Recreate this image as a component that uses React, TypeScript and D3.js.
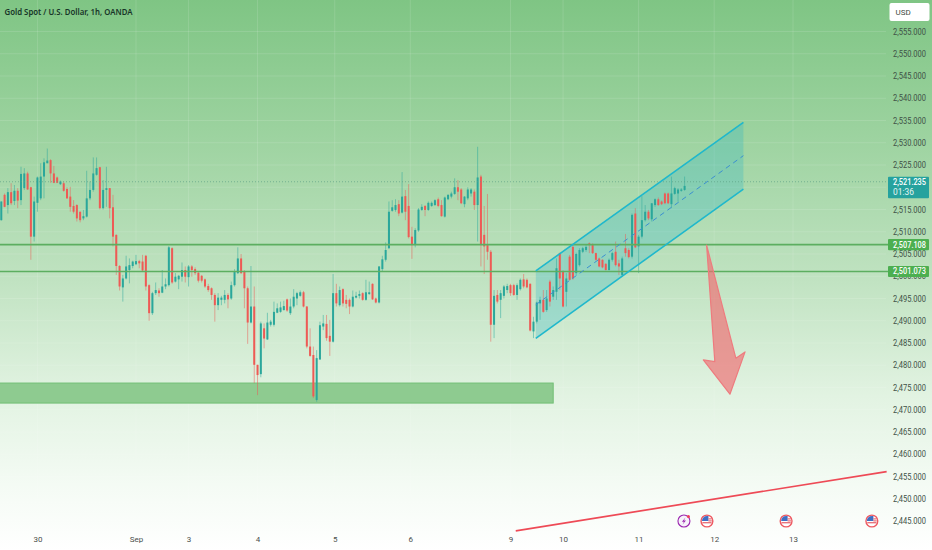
import * as d3 from "d3";
import { useEffect, useRef } from "react";

// [open, close, high, low], hourly bars
const candles: number[][] = [
  [2512.6,2516.8,2516.8,2512.5],[2518.3,2515.6,2518.6,2515.5],[2516.0,2518.9,2519.8,2514.1],[2518.9,2516.4,2520.9,2516.0],
  [2516.9,2519.2,2520.5,2516.0],[2519.2,2517.0,2519.8,2515.3],[2517.1,2523.0,2524.6,2516.0],[2519.8,2523.1,2524.3,2519.4],
  [2523.1,2519.5,2523.5,2519.4],[2520.0,2508.9,2520.1,2503.7],[2508.9,2516.8,2517.9,2507.8],[2516.5,2522.2,2522.4,2514.5],
  [2517.5,2522.4,2525.4,2517.1],[2522.4,2525.6,2526.5,2517.5],[2525.4,2526.0,2528.7,2525.4],[2526.1,2523.1,2526.3,2521.0],
  [2523.1,2521.0,2524.8,2520.9],[2522.2,2521.0,2522.4,2520.9],[2520.7,2521.3,2521.5,2520.5],[2520.9,2519.2,2521.3,2519.0],
  [2519.6,2517.5,2520.0,2517.4],[2517.9,2515.6,2520.1,2514.5],[2515.8,2514.5,2517.1,2514.1],[2516.0,2513.0,2516.2,2512.3],
  [2514.5,2512.6,2514.5,2512.1],[2513.0,2513.5,2514.9,2512.6],[2513.4,2517.5,2523.7,2513.2],[2517.5,2519.4,2521.3,2517.1],
  [2519.4,2523.1,2526.7,2519.0],[2522.8,2524.3,2526.7,2522.6],[2524.5,2515.3,2524.6,2515.0],[2515.3,2519.4,2521.6,2515.0],
  [2519.4,2519.8,2524.6,2515.6],[2519.8,2515.3,2519.8,2513.0],[2515.5,2508.9,2518.3,2506.7],[2509.3,2502.3,2509.4,2500.3],
  [2502.3,2497.7,2502.5,2496.8],[2497.5,2499.5,2500.3,2494.3],[2499.5,2502.2,2504.6,2499.3],[2501.4,2502.5,2504.0,2498.4],
  [2502.3,2503.3,2503.5,2501.8],[2502.7,2503.4,2504.8,2502.5],[2503.4,2502.9,2503.7,2501.8],[2503.3,2501.3,2504.8,2501.0],
  [2504.6,2497.7,2504.8,2496.8],[2498.0,2491.7,2498.2,2490.0],[2491.7,2496.2,2496.5,2491.3],[2496.2,2496.9,2498.6,2495.8],
  [2496.8,2496.2,2497.3,2495.4],[2496.3,2497.7,2501.4,2496.2],[2497.7,2498.2,2499.5,2497.1],[2498.0,2506.5,2506.8,2497.7],
  [2506.3,2498.6,2506.5,2498.3],[2498.8,2499.9,2500.7,2498.6],[2499.3,2500.1,2500.3,2497.1],[2499.9,2501.4,2503.1,2498.8],
  [2501.4,2499.9,2502.2,2498.6],[2499.8,2502.2,2502.5,2497.7],[2502.2,2501.4,2502.5,2499.9],[2501.6,2500.7,2502.0,2500.3],
  [2500.8,2499.0,2501.0,2498.6],[2500.1,2499.0,2500.3,2498.6],[2499.3,2497.7,2499.5,2497.4],[2497.8,2496.9,2498.3,2496.5],
  [2497.3,2495.8,2497.5,2494.7],[2495.8,2493.5,2496.2,2489.8],[2493.5,2495.2,2496.2,2492.4],[2494.7,2495.2,2495.6,2493.5],
  [2494.7,2495.8,2496.9,2493.9],[2495.8,2494.8,2496.2,2492.8],[2495.0,2498.0,2498.8,2494.7],[2498.0,2501.0,2501.6,2497.7],
  [2500.7,2504.0,2506.5,2500.5],[2504.0,2500.7,2505.0,2500.5],[2501.0,2497.3,2501.4,2492.8],[2497.3,2489.6,2497.7,2484.8],
  [2489.6,2493.2,2502.3,2489.4],[2493.2,2480.1,2497.7,2476.0],[2480.1,2477.8,2480.1,2473.3],[2478.0,2489.4,2489.8,2477.3],
  [2488.3,2486.0,2489.4,2483.8],[2485.8,2489.6,2491.8,2485.7],[2489.1,2489.8,2490.2,2488.7],[2489.1,2492.0,2494.3,2488.7],
  [2491.8,2492.8,2493.9,2491.7],[2492.0,2493.0,2494.3,2491.8],[2492.4,2493.3,2494.5,2492.3],[2494.8,2492.3,2495.0,2492.0],
  [2491.7,2493.2,2495.0,2491.3],[2493.2,2495.4,2497.1,2492.8],[2495.0,2496.2,2496.5,2493.5],[2495.6,2496.4,2496.8,2495.4],
  [2496.4,2493.2,2496.7,2493.0],[2493.2,2484.2,2493.3,2483.8],[2484.2,2482.1,2488.3,2481.9],[2482.3,2473.0,2484.2,2472.6],
  [2472.2,2481.6,2483.4,2471.8],[2481.3,2489.0,2489.8,2481.2],[2488.7,2489.4,2491.3,2487.9],[2489.3,2486.1,2491.3,2485.5],
  [2486.6,2485.3,2490.2,2482.1],[2485.3,2496.2,2500.5,2485.1],[2496.2,2493.9,2498.3,2493.2],[2493.5,2496.9,2497.7,2493.2],
  [2497.1,2493.9,2497.3,2493.2],[2494.7,2493.8,2495.8,2492.8],[2494.7,2493.2,2495.0,2491.5],[2493.2,2495.4,2496.8,2493.0],
  [2495.2,2495.6,2496.5,2495.0],[2495.6,2496.0,2496.8,2495.0],[2496.2,2494.7,2496.4,2494.5],[2494.7,2496.4,2499.2,2494.5],
  [2496.0,2496.4,2498.8,2495.8],[2498.3,2494.8,2498.4,2494.7],[2495.0,2494.1,2495.2,2493.9],[2494.1,2502.2,2502.3,2493.9],
  [2501.6,2503.8,2504.6,2501.0],[2503.7,2505.9,2507.6,2503.3],[2506.3,2514.5,2516.8,2506.1],[2514.7,2515.5,2517.1,2514.5],
  [2514.9,2516.0,2517.3,2514.5],[2516.2,2514.1,2517.1,2513.5],[2514.3,2517.9,2523.4,2514.1],[2518.0,2514.5,2519.4,2512.6],
  [2515.8,2508.8,2520.7,2508.5],[2508.9,2507.0,2511.1,2503.9],[2507.0,2510.4,2510.8,2506.5],[2510.3,2515.0,2515.3,2510.0],
  [2514.9,2515.6,2516.2,2514.7],[2515.8,2514.9,2516.0,2513.5],[2514.9,2516.5,2516.8,2514.7],[2515.8,2516.5,2516.8,2515.6],
  [2516.0,2517.1,2517.3,2515.8],[2517.3,2515.8,2517.7,2515.5],[2516.0,2513.5,2517.1,2513.4],[2513.4,2517.7,2517.9,2513.2],
  [2517.3,2518.3,2518.4,2517.1],[2517.9,2518.6,2519.0,2517.5],[2518.5,2520.0,2522.0,2518.3],[2520.0,2519.0,2521.6,2517.1],
  [2519.5,2516.4,2519.8,2516.2],[2516.2,2517.9,2518.0,2515.5],[2517.5,2519.5,2520.0,2517.1],[2518.6,2519.5,2519.8,2517.9],
  [2519.0,2516.0,2519.5,2514.9],[2516.0,2522.2,2529.1,2507.8],[2522.4,2507.0,2522.8,2502.2],[2509.3,2506.7,2515.8,2500.5],
  [2507.0,2505.5,2518.5,2503.7],[2505.5,2489.1,2505.9,2485.3],[2489.1,2495.6,2496.9,2486.1],[2495.8,2494.3,2496.9,2493.9],
  [2494.7,2496.2,2496.9,2490.6],[2495.6,2497.7,2498.0,2495.0],[2496.9,2497.8,2498.3,2496.2],[2498.0,2496.2,2498.3,2495.6],
  [2498.0,2495.8,2498.3,2495.6],[2495.8,2498.0,2498.4,2494.7],[2497.1,2499.2,2499.5,2496.8],[2499.3,2497.7,2500.5,2497.3],
  [2499.2,2497.5,2499.5,2497.3],[2498.3,2487.8,2498.4,2487.6],[2487.6,2489.8,2490.9,2486.1],[2489.8,2494.1,2494.3,2489.4],
  [2493.9,2494.7,2495.4,2490.2],[2494.7,2492.0,2496.9,2491.8],[2492.4,2495.0,2496.9,2492.0],[2498.8,2494.3,2499.2,2493.2],
  [2495.4,2496.9,2497.7,2494.7],[2496.5,2501.8,2504.0,2494.7],[2505.2,2499.5,2505.3,2496.9],[2501.0,2493.2,2501.4,2493.0],
  [2496.5,2499.5,2500.7,2493.2],[2504.4,2499.2,2504.8,2499.0],[2506.6,2499.5,2507.0,2499.2],[2500.7,2505.0,2505.3,2500.3],
  [2502.5,2505.9,2506.3,2502.2],[2505.5,2506.3,2506.6,2505.2],[2505.9,2506.6,2507.0,2505.5],[2507.4,2507.0,2507.6,2505.2],
  [2507.0,2505.2,2507.4,2505.0],[2505.2,2503.7,2505.3,2503.5],[2504.0,2502.2,2504.2,2502.0],[2503.7,2502.0,2503.8,2501.8],
  [2502.8,2501.4,2502.9,2501.3],[2501.4,2503.7,2504.0,2501.3],[2503.7,2505.2,2505.5,2503.3],[2505.5,2502.5,2507.8,2502.2],
  [2502.9,2502.2,2503.7,2500.3],[2500.3,2504.0,2504.4,2499.9],[2506.3,2505.2,2509.5,2504.4],[2505.9,2504.3,2506.3,2504.0],
  [2504.4,2513.8,2514.1,2504.0],[2514.1,2506.5,2515.3,2506.3],[2506.7,2508.9,2509.3,2500.7],[2508.9,2512.6,2518.0,2508.5],
  [2512.6,2514.5,2516.0,2512.3],[2514.5,2513.0,2514.9,2512.6],[2512.8,2516.4,2516.4,2512.3],[2516.0,2517.3,2517.5,2515.6],
  [2517.3,2516.0,2517.7,2515.8],[2516.8,2516.2,2517.0,2516.0],[2518.6,2516.4,2518.8,2516.2],[2518.6,2516.4,2518.8,2516.2],
  [2516.2,2518.6,2522.4,2515.3],[2518.5,2519.8,2520.1,2518.3],[2518.6,2519.5,2519.8,2516.8],[2519.2,2519.5,2519.8,2519.0],
  [2519.4,2520.3,2522.4,2519.2],
];

// 2,520.000 sits fully behind the last price tag in the reference
const gridTicks = d3.range(2445, 2556, 5);
const priceTicks = gridTicks.filter((d) => d !== 2520);
const dayTicks = [11, 41, 57, 78, 101.5, 124.5, 155, 171, 194, 217, 241];
const dayLabels = ["30", "Sep", "3", "4", "5", "6", "9", "10", "11", "12", "13"];

const lastPrice = 2521.235;
const levels = [2507.108, 2501.073];
const supportZone = { toBar: 168, top: 2476, bottom: 2471.5 };

// Channel ends as [bar, price]
const channelTop = [[162.7, 2501.2], [225.9, 2534.6]];
const channelMid = [[162.7, 2493.6], [225.9, 2527.1]];
const channelBottom = [[162.7, 2486.06], [225.9, 2519.6]];
const arrowShape = [[214.7, 2507], [223.6, 2481.6], [226.4, 2483], [221.8, 2473.5], [213.7, 2481.2], [217.2, 2480.8]];
const trendLine = [[156.6, 2442.8], [269.5, 2456.1]];
const boltBar = 207.8;
const flagBars = [214.8, 238.9, 265];

const FONT = "Roboto, 'Noto Sans', sans-serif";
const PRICE_W = 33;

export default function App() {
  const svgRef = useRef<SVGSVGElement>(null);

  useEffect(() => {
    if (!svgRef.current) return;
    const svg = d3.select<SVGSVGElement, unknown>(svgRef.current);
    svg.selectAll("*").remove();
    const width = 932;
    const height = 550;

    const x = d3.scaleLinear().domain([0, 208]).range([1.3, 684.6]);
    const y = d3.scaleLinear().domain([2555, 2445]).range([31.5, 521]);

    const defs = svg.append("defs");
    const grad = defs
      .append("linearGradient")
      .attr("id", "bg")
      .attr("x1", 0)
      .attr("y1", 0)
      .attr("x2", 0)
      .attr("y2", 1);
    [
      [0, "#7fc584"],
      [0.25, "#9dd3a0"],
      [0.5, "#bfe2c0"],
      [0.72, "#e2f3e2"],
      [0.88, "#f4fbf4"],
      [1, "#ffffff"],
    ].forEach(([o, c]) => grad.append("stop").attr("offset", o).attr("stop-color", c));
    defs
      .append("filter")
      .attr("id", "soft")
      .attr("x", "-5%")
      .attr("y", "-5%")
      .attr("width", "110%")
      .attr("height", "110%")
      .append("feGaussianBlur")
      .attr("stdDeviation", 0.3);

    svg.append("rect").attr("width", width).attr("height", height).attr("fill", "url(#bg)");

    // Grid
    const grid = svg.append("g").attr("stroke", "#ffffff").attr("stroke-opacity", 0.12);
    grid
      .selectAll("line.h")
      .data(gridTicks)
      .enter()
      .append("line")
      .attr("x1", 0)
      .attr("x2", 886)
      .attr("y1", (d) => y(d))
      .attr("y2", (d) => y(d));
    grid
      .selectAll("line.v")
      .data(dayTicks)
      .enter()
      .append("line")
      .attr("x1", (d) => x(d))
      .attr("x2", (d) => x(d))
      .attr("y1", 0)
      .attr("y2", 528);

    // Support zone
    svg
      .append("rect")
      .attr("x", -2)
      .attr("width", x(supportZone.toBar) + 2)
      .attr("y", y(supportZone.top))
      .attr("height", y(supportZone.bottom) - y(supportZone.top))
      .attr("fill", "#8ecb90")
      .attr("stroke", "#71bf75")
      .attr("stroke-width", 1);

    const line = d3
      .line<number[]>()
      .x((d) => x(d[0]))
      .y((d) => y(d[1]));

    // Channel fill
    svg
      .append("path")
      .attr("d", line([...channelTop, ...[...channelBottom].reverse()]) + "Z")
      .attr("fill", "#1fb3c9")
      .attr("fill-opacity", 0.26);

    // Candles
    const bars = svg
      .append("g")
      .attr("filter", "url(#soft)")
      .selectAll("g")
      .data(candles)
      .enter()
      .append("g")
      .attr("fill", (d) => (d[1] >= d[0] ? "#2aa79b" : "#ee5a55"))
      .attr("stroke", (d) => (d[1] >= d[0] ? "#2aa79b" : "#ee5a55"));
    bars
      .append("line")
      .attr("x1", (_, i) => x(i))
      .attr("x2", (_, i) => x(i))
      .attr("y1", (d) => y(d[2]))
      .attr("y2", (d) => y(d[3]))
      .attr("stroke-width", 1)
      .attr("stroke-opacity", 0.5);
    bars
      .append("rect")
      .attr("x", (_, i) => x(i) - 1)
      .attr("width", 2)
      .attr("y", (d) => y(Math.max(d[0], d[1])))
      .attr("height", (d) => Math.max(0.8, Math.abs(y(d[0]) - y(d[1]))))
      .attr("stroke", "none");

    // Last price dotted line
    svg
      .append("line")
      .attr("x1", 0)
      .attr("x2", 888)
      .attr("y1", y(lastPrice))
      .attr("y2", y(lastPrice))
      .attr("stroke", "#5d9f86")
      .attr("stroke-width", 1)
      .attr("stroke-opacity", 0.7)
      .attr("stroke-dasharray", "1 2");

    // Level lines
    svg
      .selectAll("line.level")
      .data(levels)
      .enter()
      .append("line")
      .attr("class", "level")
      .attr("x1", 0)
      .attr("x2", 888)
      .attr("y1", (d) => y(d))
      .attr("y2", (d) => y(d))
      .attr("stroke", "#5cae60")
      .attr("stroke-width", 1.6);

    // Channel lines
    [channelTop, channelBottom].forEach((c) => {
      svg
        .append("path")
        .attr("d", line(c))
        .attr("fill", "none")
        .attr("stroke", "#1fb8cc")
        .attr("stroke-width", 1.6);
    });
    svg
      .append("path")
      .attr("d", line(channelMid))
      .attr("fill", "none")
      .attr("stroke", "#3b8fd0")
      .attr("stroke-width", 1)
      .attr("stroke-dasharray", "5 4");

    // Arrow
    svg
      .append("path")
      .attr("d", line(arrowShape) + "Z")
      .attr("fill", "#ef6a70")
      .attr("fill-opacity", 0.65)
      .attr("stroke", "#ee7b7e")
      .attr("stroke-width", 1.2)
      .attr("stroke-linejoin", "round");

    // Red trend line
    svg
      .append("path")
      .attr("d", line(trendLine))
      .attr("fill", "none")
      .attr("stroke", "#ee4a56")
      .attr("stroke-width", 1.7);

    // Event markers
    const iconY = y(2445);
    const bolt = svg.append("g").attr("transform", `translate(${x(boltBar)},${iconY})`);
    bolt.append("circle").attr("r", 6).attr("fill", "#f6f3fa").attr("stroke", "#9c27b0").attr("stroke-width", 1.1);
    bolt
      .append("path")
      .attr("d", "M1.5 -3.5 L-2 0.8 L0 0.8 L-1.3 3.5 L2 -0.6 L0 -0.6 Z")
      .attr("fill", "#9c27b0");
    bolt.append("circle").attr("cx", 4.5).attr("cy", -4.5).attr("r", 1.5).attr("fill", "#ef3f5a");

    flagBars.forEach((b) => {
      const g = svg.append("g").attr("transform", `translate(${x(b)},${iconY})`);
      g.append("circle").attr("r", 6.6).attr("fill", "#ee5a62");
      g.append("circle").attr("r", 5.2).attr("fill", "#ffffff");
      g.append("path").attr("d", "M-5 0 A5 5 0 0 1 0 -5 L1.5 -5 L1.5 0 Z").attr("fill", "#3f6fc4");
      g.append("rect").attr("x", 1.5).attr("y", -2.6).attr("width", 3.2).attr("height", 1).attr("fill", "#e2535d");
      g.append("rect").attr("x", -4.6).attr("y", 1.2).attr("width", 9.2).attr("height", 1.1).attr("fill", "#e2535d");
      g.append("rect").attr("x", 1.5).attr("y", -0.6).attr("width", 3.4).attr("height", 1).attr("fill", "#e2535d");
    });

    // Price axis
    const yAxis = d3
      .axisRight(y)
      .tickValues(priceTicks)
      .tickSize(0)
      .tickPadding(0)
      .tickFormat((d) => d3.format(",.3f")(d as number));
    const yG = svg.append("g").attr("transform", "translate(893,0)").call(yAxis);
    yG.select(".domain").remove();
    yG.selectAll(".tick text")
      .attr("fill", "#3f5247")
      .attr("font-size", "8.4px")
      .attr("font-family", FONT)
      .attr("textLength", PRICE_W)
      .attr("lengthAdjust", "spacingAndGlyphs");

    // Time axis
    const xAxis = d3
      .axisBottom(x)
      .tickValues(dayTicks)
      .tickSize(0)
      .tickPadding(0)
      .tickFormat((_, i) => dayLabels[i]);
    const xG = svg.append("g").attr("transform", "translate(0,536)").call(xAxis);
    xG.select(".domain").remove();
    xG.selectAll(".tick text").attr("fill", "#4a4f4c").attr("font-size", "8px").attr("font-family", FONT);

    // Price tags
    const tag = svg.append("g").attr("font-family", FONT).attr("font-size", "8.4px");
    levels.forEach((d) => {
      tag
        .append("rect")
        .attr("x", 888)
        .attr("width", 41)
        .attr("y", y(d) - 5.6)
        .attr("height", 11.2)
        .attr("rx", 1)
        .attr("fill", "#4caf50");
      tag
        .append("text")
        .attr("x", 893)
        .attr("y", y(d) + 3)
        .attr("fill", "#ffffff")
        .attr("font-weight", 500)
        .attr("textLength", PRICE_W)
        .attr("lengthAdjust", "spacingAndGlyphs")
        .text(d3.format(",.3f")(d));
    });
    tag
      .append("rect")
      .attr("x", 888)
      .attr("width", 41)
      .attr("y", y(lastPrice) - 5)
      .attr("height", 21.5)
      .attr("rx", 1)
      .attr("fill", "#25a29e");
    tag
      .append("text")
      .attr("x", 893)
      .attr("y", y(lastPrice) + 3)
      .attr("fill", "#ffffff")
      .attr("font-weight", 500)
      .attr("textLength", PRICE_W)
      .attr("lengthAdjust", "spacingAndGlyphs")
      .text(d3.format(",.3f")(lastPrice));
    tag
      .append("text")
      .attr("x", 893)
      .attr("y", y(lastPrice) + 13)
      .attr("fill", "#e6f6f3")
      .text("01:36");

    // USD button
    svg
      .append("rect")
      .attr("x", 889.5)
      .attr("y", 3)
      .attr("width", 40)
      .attr("height", 18)
      .attr("rx", 2)
      .attr("fill", "#ffffff");
    svg
      .append("text")
      .attr("x", 895.5)
      .attr("y", 15)
      .attr("fill", "#3c4a42")
      .attr("font-family", FONT)
      .attr("font-size", "8px")
      .text("USD");

    // Title
    svg
      .append("text")
      .attr("x", 4.5)
      .attr("y", 14.5)
      .attr("fill", "#173528")
      .attr("font-family", "'Noto Sans', sans-serif")
      .attr("font-size", "9px")
      .attr("font-weight", 600)
      .attr("textLength", 128)
      .attr("lengthAdjust", "spacingAndGlyphs")
      .text("Gold Spot / U.S. Dollar, 1h, OANDA");
  }, []);

  return (
    <svg
      ref={svgRef}
      width={932}
      height={550}
      style={{ position: "absolute", left: 0, top: 0, display: "block" }}
    />
  );
}
